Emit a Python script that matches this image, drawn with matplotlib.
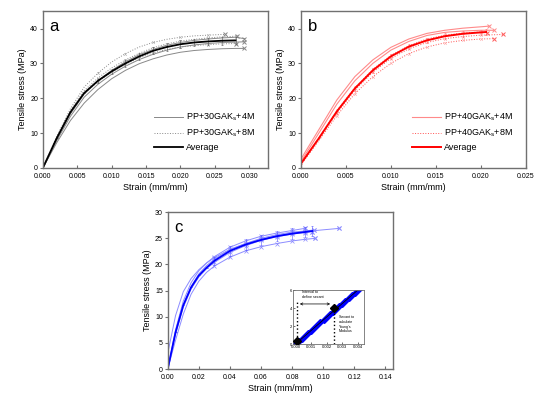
import numpy as np
import matplotlib
matplotlib.use("Agg")
import matplotlib.pyplot as plt

plt.rcParams['font.family'] = ['Liberation Sans', 'DejaVu Sans']

# ---- panel a: PP+30GAKs ----
strain_a = [0, 0.002, 0.004, 0.006, 0.008, 0.010, 0.012, 0.014, 0.016, 0.018, 0.020, 0.022, 0.024, 0.026, 0.028]
avg_a = [0, 8.5, 16.0, 21.5, 25.0, 27.7, 30.0, 32.0, 33.6, 34.7, 35.5, 36.0, 36.3, 36.5, 36.6]
err_a = [0, 0, 0, 0, 0.6, 0.8, 0.9, 1.0, 1.0, 1.1, 1.1, 1.1, 1.1, 1.1, 1.1]
a_4m = [
    ([0, 7.2, 13.6, 18.6, 22.5, 25.6, 28.0, 29.9, 31.3, 32.4, 33.2, 33.7, 34.0, 34.2, 34.3], (0.0293, 34.3)),
    ([0, 8.2, 15.5, 21.2, 25.0, 28.0, 30.5, 32.5, 34.0, 35.2, 36.0, 36.6, 37.0, 37.3, 37.5], (0.0293, 37.1)),
    ([0, 7.8, 14.8, 20.3, 24.0, 26.9, 29.2, 31.1, 32.6, 33.8, 34.7, 35.3, 35.7, 36.0, 36.1], (0.0293, 36.2)),
]
a_8m = [
    ([0, 9.0, 17.0, 23.2, 27.2, 30.4, 32.8, 34.7, 36.0, 36.9, 37.5, 37.9, 38.1, 38.3], (0.0265, 38.3)),
    ([0, 8.6, 16.4, 22.2, 25.8, 28.7, 31.0, 32.9, 34.5, 35.6, 36.4, 36.9, 37.3, 37.6, 37.8], (0.0282, 37.9)),
    ([0, 8.4, 15.8, 21.3, 24.8, 27.5, 29.7, 31.6, 33.0, 34.0, 34.7, 35.1, 35.4, 35.6, 35.7], (0.0280, 35.7)),
]

# ---- panel b: PP+40GAKs ----
strain_b = [0, 0.002, 0.004, 0.006, 0.008, 0.010, 0.012, 0.014, 0.016, 0.018, 0.020]
avg_b = [1.2, 8.5, 16.2, 22.8, 28.0, 32.0, 34.8, 36.6, 37.8, 38.5, 38.9]
avg_b_end = (0.0206, 39.0)
err_b = [0, 0, 0.6, 0.7, 0.8, 0.8, 0.8, 0.8, 0.8, 0.8, 0.8]
b_4m = [
    ([2.5, 11.0, 19.5, 26.2, 31.0, 34.6, 37.0, 38.6, 39.5, 40.1, 40.5], (0.02095, 40.7)),
    ([1.8, 10.0, 18.3, 25.0, 30.0, 33.8, 36.3, 38.0, 38.9, 39.3, 39.5], (0.0215, 39.5)),
]
b_8m = [
    ([0.8, 7.8, 15.0, 21.3, 26.2, 30.0, 32.8, 34.7, 35.9, 36.6, 37.0], (0.0215, 37.1)),
    ([1.0, 8.3, 15.8, 22.3, 27.5, 31.4, 34.2, 36.0, 37.1, 37.7, 38.1], (0.02245, 38.3)),
    ([1.2, 8.6, 16.4, 23.0, 28.3, 32.3, 35.1, 37.0, 38.1, 38.7, 39.0], (0.0207, 38.8)),
]

# ---- panel c ----
strain_c = [0, 0.005, 0.010, 0.015, 0.020, 0.025, 0.030, 0.040, 0.050, 0.060, 0.070, 0.080, 0.088]
avg_c = [0, 7.0, 12.2, 15.6, 17.9, 19.4, 20.7, 22.6, 23.8, 24.7, 25.4, 25.9, 26.2]
avg_c_end = (0.093, 26.4)
err_c = [0, 0, 0, 0, 0, 0, 0.8, 0.9, 1.0, 1.0, 1.0, 1.0, 1.0]
c_runs = [
    ([3.0, 10.2, 14.8, 17.3, 19.0, 20.3, 21.3, 22.9, 24.0, 24.8, 25.5, 26.0, 26.3], (0.110, 26.9)),
    ([0, 5.5, 10.5, 14.3, 16.8, 18.5, 19.7, 21.4, 22.6, 23.4, 24.0, 24.5, 24.8], (0.095, 25.0)),
    ([0, 7.5, 13.0, 16.5, 18.8, 20.3, 21.5, 23.3, 24.5, 25.4, 26.0, 26.5], (0.088, 26.9)),
    ([0, 7.0, 12.3, 15.8, 18.2, 19.8, 21.0, 22.8, 24.0, 25.0, 25.7, 26.2, 26.4], (0.094, 26.6)),
    ([0, 6.6, 11.8, 15.3, 17.6, 19.2, 20.4, 22.3, 23.6, 24.6, 25.3, 25.8, 26.1], (0.0925, 26.3)),
]

# ---- inset: secant definition ----
inset_strain = [0.0000, 0.0002, 0.0004, 0.0006, 0.0008, 0.0010, 0.0012, 0.0014, 0.0016, 0.0018,
                0.0020, 0.0022, 0.0024, 0.0026, 0.0028, 0.0030, 0.0032, 0.0034, 0.0036, 0.0038,
                0.0040, 0.0042, 0.0044]
inset_stress = [0.00, 0.30, 0.60, 0.90, 1.20, 1.50, 1.80, 2.10, 2.40, 2.70,
                3.00, 3.30, 3.60, 3.90, 4.20, 4.50, 4.80, 5.10, 5.40, 5.70,
                6.00, 6.30, 6.60]
secant_pts = ([0.0001, 0.0025], [0.3, 3.95])

fig = plt.figure(figsize=(5.5, 3.97), dpi=100)
ax_a = fig.add_axes([0.078, 0.577, 0.409, 0.395])
ax_b = fig.add_axes([0.547, 0.577, 0.409, 0.395])
ax_c = fig.add_axes([0.305, 0.0705, 0.410, 0.395])
ax_i = fig.add_axes([0.533, 0.1335, 0.129, 0.136])

spine_col = '#707070'


def style(ax, label, xlim, ylim, xticks, yticks, fmt):
    ax.set_xlim(*xlim)
    ax.set_ylim(*ylim)
    ax.set_xticks(xticks)
    ax.set_yticks(yticks)
    ax.set_xticklabels([fmt.format(t) for t in xticks])
    ax.tick_params(axis='x', direction='in', length=2, labelsize=5, color=spine_col, pad=3.5)
    ax.tick_params(axis='y', direction='out', length=2, labelsize=5, color=spine_col, pad=1.5)
    for s in ax.spines.values():
        s.set_color(spine_col)
        s.set_linewidth(1.0)
    ax.set_xlabel("Strain (mm/mm)", fontsize=6.5, labelpad=2)
    ax.set_ylabel("Tensile stress (MPa)", fontsize=6.5, labelpad=2)
    ax.text(0.03, 0.95, label, transform=ax.transAxes, fontsize=12, va='top', ha='left')


# panel a
grey = '#888888'
for s, end in a_4m:
    xs = strain_a[:len(s)] + [end[0]]
    ys = s + [end[1]]
    ax_a.plot(xs, ys, color=grey, lw=0.7, ls='-')
    ax_a.plot(end[0], end[1], marker='x', color=grey, ms=3.5, mew=0.7)
for s, end in a_8m:
    xs = strain_a[:len(s)] + [end[0]]
    ys = s + [end[1]]
    ax_a.plot(xs, ys, color=grey, lw=0.7, ls=':')
    ax_a.plot(xs[4::2], ys[4::2], ls='none', marker='x', color='#b0b0b0', ms=2, mew=0.4)
    ax_a.plot(end[0], end[1], marker='x', color=grey, ms=3.5, mew=0.7)
ax_a.errorbar(strain_a, avg_a, yerr=err_a, color='black', lw=1.3, ecolor='#555555',
              elinewidth=0.4, capsize=1.0, capthick=0.4)
ax_a.plot([], [], color=grey, lw=0.7, ls='-', label='PP+30GAK$_\\mathregular{s}$+4M')
ax_a.plot([], [], color=grey, lw=0.7, ls=':', label='PP+30GAK$_\\mathregular{s}$+8M')
ax_a.plot([], [], color='black', lw=1.3, label='Average')
ax_a.legend(loc='lower right', bbox_to_anchor=(0.98, 0.05), frameon=False, fontsize=6.5,
            handlelength=3.2, handletextpad=0.4, labelspacing=0.4)
style(ax_a, 'a', (0, 0.0327), (0, 45), [0, 0.005, 0.010, 0.015, 0.020, 0.025, 0.030],
      [0, 10, 20, 30, 40], '{:.3f}')

# panel b
light_red = '#ff8a8a'
for s, end in b_4m:
    xs = strain_b[:len(s)] + [end[0]]
    ys = s + [end[1]]
    ax_b.plot(xs, ys, color=light_red, lw=0.8, ls='-')
    ax_b.plot(end[0], end[1], marker='x', color=light_red, ms=3.5, mew=0.7)
for s, end in b_8m:
    xs = strain_b[:len(s)] + [end[0]]
    ys = s + [end[1]]
    ax_b.plot(xs, ys, color='#ff5050', lw=0.7, ls=':')
    ax_b.plot(xs[2:], ys[2:], ls='none', marker='x', color='#ffaaaa', ms=2, mew=0.4)
    ax_b.plot(end[0], end[1], marker='x', color='#ff6060', ms=3.5, mew=0.7)
ax_b.errorbar(strain_b + [avg_b_end[0]], avg_b + [avg_b_end[1]], yerr=err_b + [0.8],
              color='#ff0000', lw=1.4, ecolor='#ff7070', elinewidth=0.4, capsize=1.0, capthick=0.4)
ax_b.plot([], [], color=light_red, lw=0.8, ls='-', label='PP+40GAK$_\\mathregular{s}$+4M')
ax_b.plot([], [], color='#ff5050', lw=0.7, ls=':', label='PP+40GAK$_\\mathregular{s}$+8M')
ax_b.plot([], [], color='#ff0000', lw=1.4, label='Average')
ax_b.legend(loc='lower right', bbox_to_anchor=(0.98, 0.05), frameon=False, fontsize=6.5,
            handlelength=3.2, handletextpad=0.4, labelspacing=0.4)
style(ax_b, 'b', (0, 0.025), (0, 45), [0, 0.005, 0.010, 0.015, 0.020, 0.025],
      [0, 10, 20, 30, 40], '{:.3f}')

# panel c
light_blue = '#8c8cff'
for s, end in c_runs:
    xs = strain_c[:len(s)] + [end[0]]
    ys = s + [end[1]]
    ax_c.plot(xs, ys, color=light_blue, lw=0.7)
    ax_c.plot(xs[6:], ys[6:], ls='none', marker='x', color=light_blue, ms=2.2, mew=0.5)
    ax_c.plot(end[0], end[1], marker='x', color=light_blue, ms=3.5, mew=0.7)
ax_c.errorbar(strain_c + [avg_c_end[0]], avg_c + [avg_c_end[1]], yerr=err_c + [1.0],
              color='#0000ff', lw=1.3, ecolor='#5050ff', elinewidth=0.4, capsize=1.0, capthick=0.4)
style(ax_c, 'c', (0, 0.145), (0, 30), [0, 0.02, 0.04, 0.06, 0.08, 0.10, 0.12, 0.14],
      [0, 5, 10, 15, 20, 25, 30], '{:.2f}')

# inset
ax_i.plot(inset_strain, inset_stress, color='black', lw=0.6, zorder=2)
ax_i.plot(inset_strain, inset_stress, ls='none', marker='D', color='#0000ff', ms=3, zorder=1)
ax_i.plot(secant_pts[0], secant_pts[1], ls='none', marker='D', color='black', ms=4, zorder=3)
ax_i.plot([secant_pts[0][0]] * 2, [0, 4.8], color='black', ls=':', lw=1.0)
ax_i.plot([secant_pts[0][1]] * 2, [0, secant_pts[1][1]], color='black', ls=':', lw=1.0)
ax_i.annotate('', xy=(secant_pts[0][0], 4.45), xytext=(secant_pts[0][1] - 0.0001, 4.45),
              arrowprops=dict(arrowstyle='<->', lw=0.5, color='black', mutation_scale=4))
ax_i.text(0.0004, 5.5, 'Interval to\ndefine secant', fontsize=2.6, va='center', ha='left')
ax_i.text(0.0028, 2.2, 'Secant to\ncalculate\nYoung\'s\nModulus', fontsize=2.6, va='center', ha='left')
ax_i.set_xlim(-0.00015, 0.0044)
ax_i.set_ylim(0, 6)
ax_i.set_xticks([0, 0.001, 0.002, 0.003, 0.004])
ax_i.set_xticklabels(['0.000', '0.001', '0.002', '0.003', '0.004'])
ax_i.set_yticks([0, 2, 4, 6])
ax_i.tick_params(labelsize=3, length=1.5, width=0.4, direction='in', pad=1)
for s in ax_i.spines.values():
    s.set_color(spine_col)
    s.set_linewidth(0.6)

fig.savefig('out.png', dpi=100)
